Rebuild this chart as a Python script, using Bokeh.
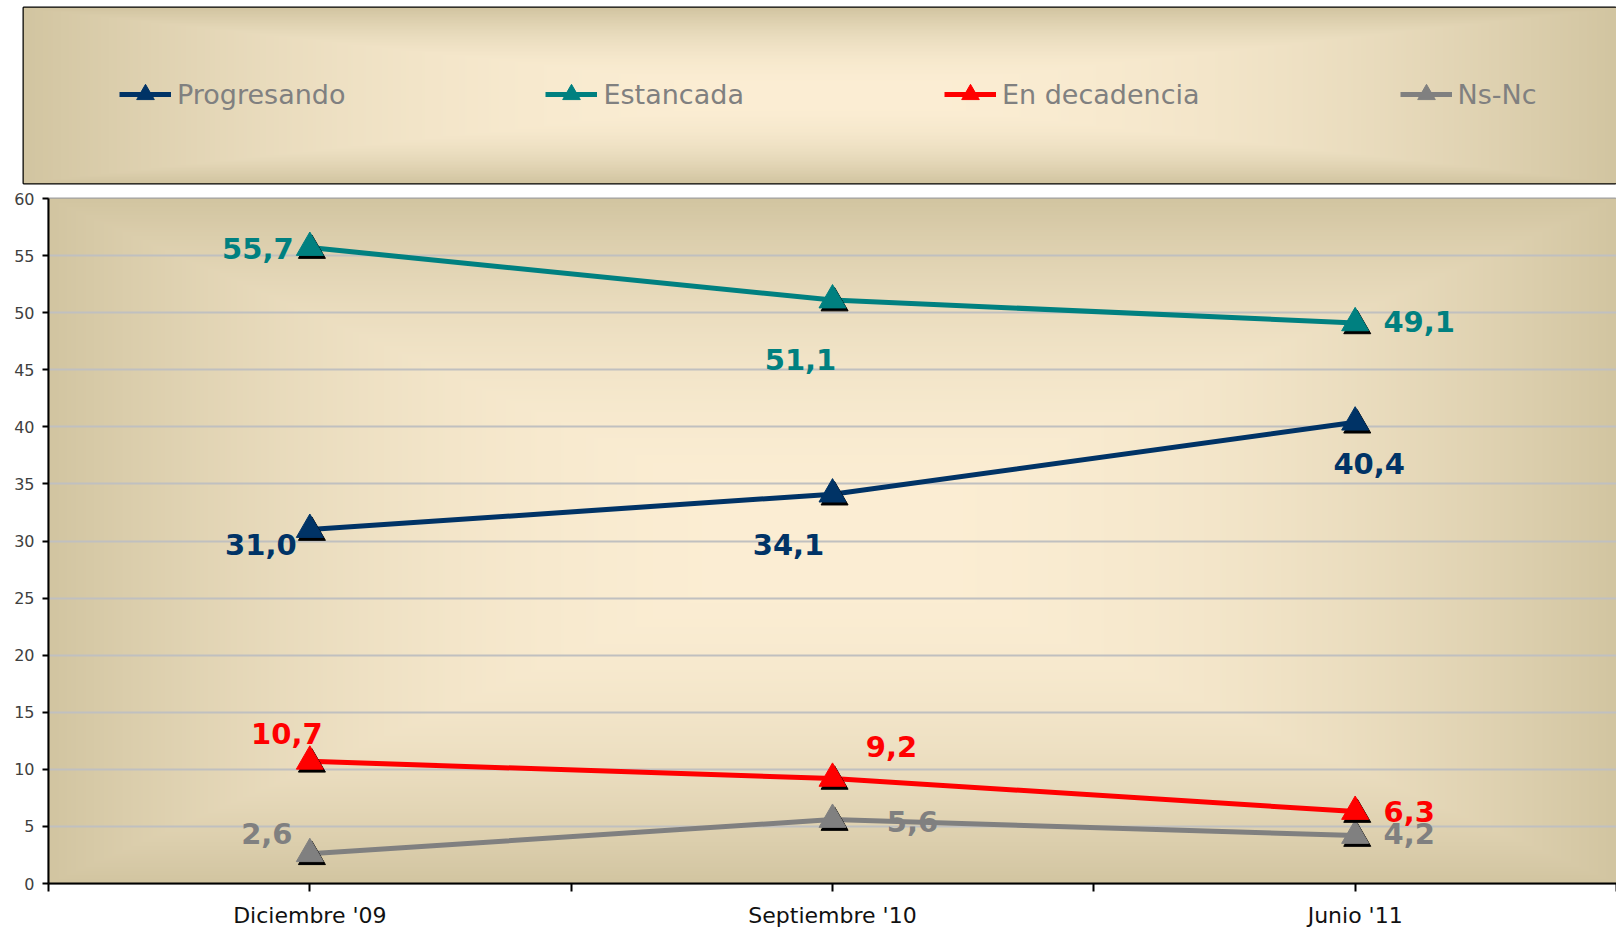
import numpy as np
from bokeh.plotting import figure
from bokeh.models import ColumnDataSource, Range1d, FixedTicker, Legend, LegendItem
from bokeh.transform import dodge
from bokeh.core.properties import value
from bokeh.embed import file_html
from bokeh.resources import INLINE

# ---------------- data ----------------
categories = ["Diciembre '09", "Septiembre '10", "Junio '11"]
progresando = [31.0, 34.1, 40.4]
estancada = [55.7, 51.1, 49.1]
en_decadencia = [10.7, 9.2, 6.3]
ns_nc = [2.6, 5.6, 4.2]
y_ticks = list(range(0, 61, 5))

series_names = ["Progresando", "Estancada", "En decadencia", "Ns-Nc"]
series_values = [progresando, estancada, en_decadencia, ns_nc]

# ---------------- styles ----------------
colors = ["#003366", "#008080", "#FF0000", "#808080"]
label_offsets = {  # (dx, dy) in screen px for each point label
    "Progresando": [(-49, 15), (-44, 50), (14, 41)],
    "Estancada": [(-52, 1), (-32, 59), (64, -1)],
    "En decadencia": [(-23, -28), (59, -32), (54, 0)],
    "Ns-Nc": [(-43, -20), (80, 2), (54, -2)],
}
draw_order = [3, 2, 0, 1]
FONT = "DejaVu Sans"
EDGE = (210, 197, 161)
CENTER = (252, 238, 212)


def gradient_rgba(nx, ny, power=2.2):
    u = np.abs(np.linspace(-1, 1, nx))[None, :]
    v = np.abs(np.linspace(-1, 1, ny))[:, None]
    t = np.maximum(u, v)
    f = t ** power
    img = np.empty((ny, nx), dtype=np.uint32)
    view = img.view(dtype=np.uint8).reshape((ny, nx, 4))
    for k in range(3):
        view[:, :, k] = np.clip(CENTER[k] + (EDGE[k] - CENTER[k]) * f, 0, 255).astype(np.uint8)
    view[:, :, 3] = 255
    return img


# ---------------- legend box (top figure) ----------------
top = figure(width=1616, height=186, x_range=Range1d(0, 1), y_range=Range1d(0, 1),
             output_backend="svg", toolbar_location=None,
             x_axis_location=None, y_axis_location=None,
             min_border_left=23, min_border_right=0, min_border_top=7, min_border_bottom=3)
top.grid.visible = False
top.outline_line_color = "black"
top.outline_line_width = 2
top.background_fill_color = EDGE
top.border_fill_color = "white"
bg_top = top.image_rgba(image=[gradient_rgba(600, 120)], x=0, y=0, dw=1, dh=1)
bg_top.level = "image"

leg_items = []
for i, name in enumerate(series_names):
    r1 = top.line(x=[np.nan], y=[np.nan], line_color=colors[i], line_width=5)
    r2 = top.scatter(x=[np.nan], y=[np.nan], marker="triangle", fill_color=colors[i],
                     line_color=colors[i])
    leg_items.append(LegendItem(label=name, renderers=[r1, r2]))
legend = Legend(items=leg_items, location=(96, 67), orientation="horizontal",
                glyph_width=52, glyph_height=44, label_height=44, label_standoff=6,
                padding=0, margin=0, spacing=200,
                border_line_color=None, background_fill_alpha=0,
                label_text_font=FONT, label_text_font_size="27px",
                label_text_color="#808080")
top.add_layout(legend)

# ---------------- main chart ----------------
xs = [i + 0.5 for i in range(len(categories))]
n = len(categories)

p = figure(width=1616, height=746, x_range=Range1d(0, n), y_range=Range1d(y_ticks[0], y_ticks[-1]),
           output_backend="svg", toolbar_location=None,
           min_border_left=48, min_border_right=0, min_border_top=12, min_border_bottom=49)
p.background_fill_color = EDGE
p.border_fill_color = "white"
p.outline_line_color = "#A0A0A0"
p.outline_line_width = 2

bg = p.image_rgba(image=[gradient_rgba(800, 350)], x=0, y=y_ticks[0],
                  dw=n, dh=y_ticks[-1] - y_ticks[0])
bg.level = "image"

x_tick_pos = [k * 0.5 for k in range(2 * n + 1)]
overrides = {float(t): "" for t in x_tick_pos}
for c, xv in zip(categories, xs):
    overrides[float(xv)] = c
p.xaxis.ticker = FixedTicker(ticks=x_tick_pos)
p.xaxis.major_label_overrides = overrides
p.xaxis.major_tick_out = 8
p.xaxis.major_tick_in = 0
p.xaxis.major_tick_line_width = 2
p.xaxis.axis_line_width = 2
p.xaxis.axis_line_color = "black"
p.xaxis.minor_tick_line_color = None
p.xaxis.major_label_text_font = FONT
p.xaxis.major_label_text_font_size = "22px"
p.xaxis.major_label_text_color = "#111111"
p.xaxis.major_label_standoff = 11

p.yaxis.ticker = FixedTicker(ticks=y_ticks)
p.yaxis.major_tick_out = 6
p.yaxis.major_tick_in = 0
p.yaxis.major_tick_line_width = 2
p.yaxis.axis_line_width = 2
p.yaxis.axis_line_color = "black"
p.yaxis.minor_tick_line_color = None
p.yaxis.major_label_text_font = FONT
p.yaxis.major_label_text_font_size = "16px"
p.yaxis.major_label_text_color = "#404040"
p.yaxis.major_label_standoff = 8

p.xgrid.grid_line_color = None
p.ygrid.ticker = FixedTicker(ticks=y_ticks)
p.ygrid.grid_line_color = "#C0C0C0"
p.ygrid.grid_line_width = 2

sources = []
for i, name in enumerate(series_names):
    offs = label_offsets[name]
    src = ColumnDataSource(dict(
        x=xs, y=series_values[i],
        label=[f"{v:.1f}".replace(".", ",") for v in series_values[i]],
        dx=[o[0] for o in offs], dy=[o[1] for o in offs]))
    sources.append(src)

for i in draw_order:
    src = sources[i]
    p.line(x="x", y="y", source=src, line_color=colors[i], line_width=5)
    p.scatter(x=dodge("x", 0.004), y=dodge("y", -0.26), source=src, marker="triangle",
              size=27, fill_color="black", line_color="black")
    p.scatter(x="x", y="y", source=src, marker="triangle", size=27,
              fill_color=colors[i], line_color=colors[i])

for i in draw_order:
    p.text(x="x", y="y", text="label", source=sources[i], x_offset="dx", y_offset="dy",
           text_align="center", text_baseline="middle", text_color=colors[i],
           text_font=value(FONT), text_font_style="bold", text_font_size="29px")

open("out.html", "w").write(file_html([top, p], INLINE))
